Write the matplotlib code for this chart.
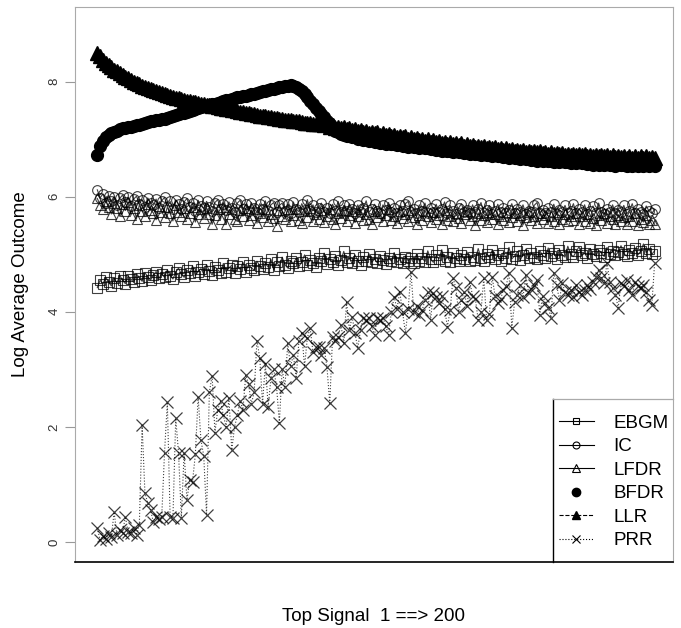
import numpy as np
import matplotlib
matplotlib.use("Agg")
import matplotlib.pyplot as plt
from matplotlib.lines import Line2D

plt.rcParams['font.family'] = ['Liberation Sans', 'DejaVu Sans']

# signal rank 1..200
rank = np.arange(1, 201)

ebgm = [
    4.42, 4.55, 4.48, 4.60, 4.52, 4.45, 4.58, 4.50, 4.63, 4.55,
    4.49, 4.62, 4.57, 4.51, 4.66, 4.59, 4.53, 4.68, 4.61, 4.55,
    4.64, 4.70, 4.58, 4.66, 4.60, 4.73, 4.63, 4.57, 4.69, 4.76,
    4.65, 4.60, 4.72, 4.67, 4.80, 4.63, 4.70, 4.75, 4.66, 4.82,
    4.71, 4.64, 4.78, 4.73, 4.68, 4.84, 4.70, 4.76, 4.81, 4.67,
    4.79, 4.74, 4.86, 4.70, 4.82, 4.77, 4.72, 4.88, 4.80, 4.75,
    4.84, 4.78, 4.91, 4.73, 4.86, 4.80, 4.95, 4.82, 4.76, 4.89,
    4.84, 4.93, 4.79, 4.87, 4.99, 4.82, 4.90, 4.85, 4.78, 4.94,
    4.88, 5.02, 4.83, 4.92, 4.86, 4.97, 4.81, 4.90, 5.05, 4.87,
    4.93, 4.84, 4.99, 4.89, 4.82, 4.95, 4.88, 5.01, 4.86, 4.92,
    4.85, 4.97, 4.90, 4.83, 4.94, 4.88, 5.03, 4.86, 4.91, 4.84,
    4.96, 4.89, 4.93, 4.85, 5.00, 4.88, 4.94, 4.87, 5.06, 4.91,
    4.86, 4.98, 4.92, 5.08, 4.89, 4.95, 4.87, 5.02, 4.93, 4.88,
    4.99, 4.91, 5.04, 4.89, 4.96, 4.90, 5.10, 4.94, 4.88, 5.01,
    4.95, 5.07, 4.91, 4.98, 4.89, 5.03, 4.94, 5.12, 4.92, 4.97,
    5.05, 4.90, 4.99, 5.09, 4.93, 5.02, 4.96, 4.91, 5.06, 4.98,
    4.94, 5.11, 4.97, 5.03, 4.92, 5.08, 4.99, 4.95, 5.14, 5.00,
    4.96, 5.05, 5.13, 4.98, 5.02, 4.94, 5.10, 5.01, 4.97, 5.07,
    5.03, 4.96, 5.12, 5.00, 5.06, 4.98, 5.04, 5.15, 5.01, 4.97,
    5.08, 5.02, 5.11, 4.99, 5.05, 5.18, 5.03, 5.09, 5.00, 5.06,
]

ic = [
    6.12, 5.98, 6.05, 5.90, 6.02, 5.93, 6.00, 5.86, 5.97, 6.03,
    5.91, 5.99, 5.84, 5.96, 6.01, 5.88, 5.95, 5.82, 5.98, 5.90,
    5.85, 5.96, 5.80, 5.93, 5.99, 5.83, 5.92, 5.79, 5.95, 5.87,
    5.78, 5.91, 5.97, 5.82, 5.89, 5.76, 5.94, 5.84, 5.80, 5.92,
    5.83, 5.75, 5.90, 5.95, 5.79, 5.88, 5.77, 5.91, 5.81, 5.74,
    5.89, 5.94, 5.78, 5.87, 5.75, 5.90, 5.80, 5.73, 5.88, 5.79,
    5.93, 5.75, 5.86, 5.90, 5.74, 5.85, 5.89, 5.76, 5.87, 5.72,
    5.91, 5.79, 5.74, 5.88, 5.77, 5.95, 5.75, 5.86, 5.73, 5.81,
    5.89, 5.74, 5.80, 5.72, 5.87, 5.76, 5.92, 5.73, 5.85, 5.75,
    5.88, 5.78, 5.71, 5.86, 5.74, 5.80, 5.93, 5.73, 5.79, 5.87,
    5.75, 5.72, 5.86, 5.77, 5.90, 5.73, 5.80, 5.71, 5.85, 5.76,
    5.88, 5.92, 5.74, 5.79, 5.72, 5.86, 5.76, 5.89, 5.71, 5.80,
    5.74, 5.87, 5.73, 5.79, 5.91, 5.72, 5.85, 5.75, 5.70, 5.80,
    5.88, 5.74, 5.77, 5.71, 5.86, 5.73, 5.79, 5.90, 5.72, 5.77,
    5.85, 5.70, 5.75, 5.87, 5.73, 5.80, 5.72, 5.77, 5.88, 5.71,
    5.79, 5.74, 5.86, 5.70, 5.76, 5.73, 5.85, 5.90, 5.72, 5.77,
    5.71, 5.80, 5.74, 5.87, 5.70, 5.77, 5.73, 5.85, 5.72, 5.76,
    5.88, 5.71, 5.79, 5.73, 5.86, 5.70, 5.76, 5.84, 5.72, 5.89,
    5.74, 5.70, 5.79, 5.73, 5.86, 5.71, 5.77, 5.74, 5.85, 5.70,
    5.76, 5.88, 5.72, 5.79, 5.73, 5.70, 5.84, 5.75, 5.71, 5.78,
]

lfdr = [
    5.97, 5.86, 5.78, 5.93, 5.82, 5.70, 5.90, 5.80, 5.66, 5.87,
    5.76, 5.91, 5.68, 5.81, 5.62, 5.86, 5.75, 5.66, 5.88, 5.77,
    5.72, 5.60, 5.84, 5.74, 5.65, 5.82, 5.71, 5.58, 5.85, 5.73,
    5.66, 5.80, 5.62, 5.72, 5.83, 5.56, 5.70, 5.79, 5.63, 5.81,
    5.70, 5.52, 5.68, 5.78, 5.61, 5.82, 5.53, 5.70, 5.79, 5.62,
    5.57, 5.77, 5.66, 5.80, 5.60, 5.69, 5.78, 5.54, 5.72, 5.64,
    5.79, 5.58, 5.70, 5.63, 5.50, 5.77, 5.66, 5.61, 5.79, 5.57,
    5.69, 5.78, 5.60, 5.54, 5.76, 5.65, 5.80, 5.58, 5.70, 5.62,
    5.77, 5.56, 5.67, 5.79, 5.61, 5.52, 5.72, 5.63, 5.77, 5.58,
    5.68, 5.76, 5.55, 5.66, 5.78, 5.60, 5.70, 5.62, 5.53, 5.76,
    5.64, 5.72, 5.57, 5.68, 5.79, 5.60, 5.67, 5.54, 5.76, 5.63,
    5.70, 5.58, 5.77, 5.64, 5.52, 5.69, 5.60, 5.76, 5.66, 5.56,
    5.73, 5.62, 5.69, 5.53, 5.77, 5.60, 5.67, 5.57, 5.72, 5.63,
    5.55, 5.70, 5.76, 5.59, 5.66, 5.51, 5.72, 5.60, 5.68, 5.56,
    5.74, 5.62, 5.70, 5.53, 5.66, 5.59, 5.73, 5.56, 5.64, 5.71,
    5.58, 5.68, 5.51, 5.65, 5.74, 5.59, 5.67, 5.55, 5.71, 5.61,
    5.69, 5.54, 5.66, 5.58, 5.73, 5.52, 5.62, 5.70, 5.57, 5.67,
    5.60, 5.72, 5.53, 5.66, 5.58, 5.70, 5.55, 5.63, 5.51, 5.68,
    5.59, 5.72, 5.54, 5.66, 5.61, 5.52, 5.69, 5.57, 5.64, 5.53,
    5.67, 5.58, 5.71, 5.51, 5.62, 5.56, 5.68, 5.53, 5.60, 5.52,
]

bfdr = [
    6.72, 6.88, 6.97, 7.03, 7.07, 7.10, 7.13, 7.15, 7.17, 7.19,
    7.20, 7.21, 7.22, 7.23, 7.24, 7.25, 7.27, 7.28, 7.30, 7.31,
    7.32, 7.33, 7.34, 7.35, 7.36, 7.37, 7.39, 7.40, 7.42, 7.43,
    7.45, 7.46, 7.48, 7.49, 7.51, 7.52, 7.54, 7.56, 7.57, 7.58,
    7.60, 7.61, 7.62, 7.63, 7.65, 7.66, 7.68, 7.69, 7.70, 7.72,
    7.73, 7.74, 7.75, 7.76, 7.77, 7.78, 7.79, 7.80, 7.82, 7.83,
    7.84, 7.86, 7.87, 7.88, 7.89, 7.90, 7.91, 7.92, 7.93, 7.94,
    7.93, 7.91, 7.88, 7.84, 7.79, 7.73, 7.67, 7.61, 7.55, 7.49,
    7.44, 7.38, 7.32, 7.26, 7.20, 7.15, 7.12, 7.09, 7.08, 7.06,
    7.05, 7.03, 7.04, 7.01, 7.02, 6.99, 7.00, 6.97, 6.98, 6.96,
    6.97, 6.94, 6.95, 6.92, 6.94, 6.91, 6.92, 6.90, 6.91, 6.88,
    6.90, 6.87, 6.88, 6.86, 6.88, 6.85, 6.86, 6.84, 6.85, 6.83,
    6.84, 6.81, 6.83, 6.80, 6.82, 6.79, 6.80, 6.78, 6.80, 6.77,
    6.78, 6.76, 6.78, 6.75, 6.76, 6.74, 6.75, 6.73, 6.74, 6.72,
    6.73, 6.71, 6.72, 6.70, 6.71, 6.69, 6.70, 6.68, 6.70, 6.67,
    6.68, 6.66, 6.68, 6.65, 6.67, 6.64, 6.66, 6.63, 6.65, 6.62,
    6.64, 6.62, 6.63, 6.61, 6.63, 6.60, 6.62, 6.60, 6.61, 6.59,
    6.61, 6.58, 6.60, 6.58, 6.59, 6.57, 6.59, 6.56, 6.58, 6.56,
    6.58, 6.55, 6.57, 6.55, 6.57, 6.54, 6.57, 6.55, 6.56, 6.54,
    6.56, 6.54, 6.56, 6.53, 6.55, 6.54, 6.56, 6.53, 6.55, 6.54,
]

llr = [
    8.50, 8.44, 8.38, 8.33, 8.29, 8.25, 8.21, 8.18, 8.15, 8.12,
    8.09, 8.06, 8.03, 8.00, 7.98, 7.96, 7.93, 7.91, 7.89, 7.87,
    7.85, 7.83, 7.82, 7.80, 7.78, 7.77, 7.75, 7.74, 7.72, 7.71,
    7.70, 7.68, 7.67, 7.66, 7.65, 7.64, 7.63, 7.62, 7.61, 7.60,
    7.59, 7.58, 7.57, 7.56, 7.55, 7.54, 7.53, 7.52, 7.51, 7.50,
    7.49, 7.48, 7.47, 7.46, 7.45, 7.44, 7.43, 7.42, 7.41, 7.40,
    7.40, 7.39, 7.38, 7.37, 7.37, 7.36, 7.35, 7.34, 7.34, 7.33,
    7.32, 7.31, 7.31, 7.30, 7.29, 7.29, 7.28, 7.27, 7.27, 7.26,
    7.27, 7.24, 7.26, 7.22, 7.24, 7.20, 7.22, 7.19, 7.21, 7.17,
    7.19, 7.16, 7.18, 7.14, 7.16, 7.13, 7.15, 7.11, 7.13, 7.10,
    7.12, 7.08, 7.10, 7.07, 7.09, 7.05, 7.08, 7.04, 7.06, 7.03,
    7.05, 7.01, 7.04, 7.00, 7.02, 6.99, 7.01, 6.97, 7.00, 6.96,
    6.98, 6.95, 6.97, 6.94, 6.96, 6.92, 6.95, 6.91, 6.94, 6.90,
    6.93, 6.89, 6.91, 6.88, 6.90, 6.87, 6.89, 6.86, 6.88, 6.85,
    6.87, 6.84, 6.86, 6.83, 6.85, 6.82, 6.84, 6.81, 6.83, 6.80,
    6.82, 6.79, 6.81, 6.78, 6.80, 6.78, 6.79, 6.77, 6.79, 6.76,
    6.78, 6.75, 6.77, 6.75, 6.76, 6.74, 6.76, 6.73, 6.75, 6.73,
    6.75, 6.72, 6.74, 6.72, 6.74, 6.71, 6.73, 6.71, 6.73, 6.70,
    6.72, 6.70, 6.72, 6.69, 6.72, 6.69, 6.71, 6.69, 6.71, 6.68,
    6.71, 6.68, 6.70, 6.68, 6.70, 6.67, 6.70, 6.67, 6.69, 6.67,
]

prr = [
    0.24, 0.03, 0.10, 0.05, 0.15, 0.08, 0.52, 0.12, 0.20, 0.15,
    0.44, 0.18, 0.15, 0.25, 0.12, 0.30, 2.03, 0.85, 0.68, 0.55,
    0.35, 0.44, 0.40, 0.44, 1.55, 2.43, 0.44, 0.42, 2.15, 1.55,
    0.42, 1.55, 0.73, 1.08, 1.05, 1.52, 2.52, 1.77, 1.50, 0.47,
    2.60, 2.89, 1.90, 2.30, 2.45, 2.20, 2.00, 2.50, 1.60, 2.00,
    2.20, 2.45, 2.30, 2.90, 2.75, 2.40, 2.60, 3.50, 3.20, 2.40,
    3.10, 2.35, 2.85, 3.00, 2.70, 2.07, 3.00, 2.70, 3.45, 3.05,
    3.25, 2.85, 3.50, 3.63, 3.05, 3.55, 3.72, 3.30, 3.38, 3.39,
    3.25, 3.37, 3.04, 2.41, 3.57, 3.50, 3.57, 3.77, 3.46, 4.17,
    3.69, 3.91, 3.63, 3.37, 3.69, 3.90, 3.85, 3.90, 3.75, 3.60,
    3.90, 3.85, 3.90, 3.75, 3.60, 4.00, 4.26, 4.05, 4.35, 4.00,
    3.63, 4.05, 4.70, 4.00, 4.10, 3.95, 4.03, 4.20, 4.35, 3.86,
    4.33, 4.25, 4.15, 4.28, 4.05, 3.74, 4.03, 4.59, 4.42, 4.00,
    4.20, 4.35, 4.10, 4.52, 4.28, 4.22, 3.86, 4.00, 4.59, 3.86,
    3.97, 4.61, 4.28, 4.15, 4.22, 4.38, 4.45, 4.68, 3.72, 4.17,
    4.30, 4.47, 4.25, 4.64, 4.33, 4.40, 4.47, 4.55, 3.95, 4.28,
    4.15, 4.07, 3.90, 4.68, 4.47, 4.20, 4.50, 4.35, 4.30, 4.38,
    4.25, 4.47, 4.35, 4.30, 4.38, 4.47, 4.40, 4.52, 4.60, 4.73,
    4.59, 4.50, 4.85, 4.52, 4.41, 4.30, 4.07, 4.50, 4.45, 4.55,
    4.38, 4.30, 4.52, 4.45, 4.41, 4.47, 4.35, 4.20, 4.12, 4.85,
]

methods = ["EBGM", "IC", "LFDR", "BFDR", "LLR", "PRR"]

fig = plt.figure(figsize=(6.81, 6.28), dpi=100)
ax = fig.add_axes([0.110, 0.105, 0.878, 0.884])

ink = (0, 0, 0, 0.75)
ax.plot(rank, ebgm, color=ink, lw=0.8, marker='s', ms=7.5, mfc='none', mew=0.8)
ax.plot(rank, ic, color=ink, lw=0.8, marker='o', ms=7.0, mfc='none', mew=0.8)
ax.plot(rank, lfdr, color=ink, lw=0.8, marker='^', ms=7.5, mfc='none', mew=0.8)
ax.plot(rank, prr, color=ink, lw=0.8, ls=':', marker='x', ms=8, mew=0.9)
ax.plot(rank, llr, color='black', lw=0.8, ls='--', marker='^', ms=10, mec='black', mfc='black')
ax.plot(rank, bfdr, color='black', ls='none', marker='o', ms=8.5, mec='black', mfc='black')

ax.set_xlim(-7.0, 206.5)
ax.set_ylim(-0.35, 9.30)
ax.set_xticks([])
ax.set_yticks([0, 2, 4, 6, 8])
ax.set_yticklabels(['0', '2', '4', '6', '8'], rotation=90, va='center')
ax.tick_params(axis='y', length=7, width=0.8, color='#999999', labelsize=9.5,
               labelcolor='#333333', pad=3.5)

for side in ['left', 'top', 'right']:
    ax.spines[side].set_color('#aaaaaa')
    ax.spines[side].set_linewidth(0.8)
ax.spines['bottom'].set_color('black')
ax.spines['bottom'].set_linewidth(1.2)

ax.set_ylabel("Log Average Outcome", fontsize=13.5, labelpad=14)
ax.set_xlabel("Top Signal  1 ==> 200", fontsize=13.5, labelpad=33)

# legend box: black left edge, grey top edge, sitting on the axes corner
bx, by = 0.799, 0.294
ax.plot([bx, bx], [0, by], transform=ax.transAxes, color='black', lw=1.0, clip_on=False)
ax.plot([bx, 1.0], [by, by], transform=ax.transAxes, color='#aaaaaa', lw=0.9, clip_on=False)

handles = [
    Line2D([], [], color='black', lw=0.8, marker='s', ms=5, mfc='none', mew=0.8),
    Line2D([], [], color='black', lw=0.8, marker='o', ms=5, mfc='none', mew=0.8),
    Line2D([], [], color='black', lw=0.8, marker='^', ms=6, mfc='none', mew=0.8),
    Line2D([], [], color='black', ls='none', marker='o', ms=6, mfc='black'),
    Line2D([], [], color='black', lw=0.8, ls='--', marker='^', ms=6, mfc='black'),
    Line2D([], [], color='black', lw=0.8, ls=':', marker='x', ms=6, mew=0.8),
]
leg = ax.legend(handles, methods, loc='lower right', bbox_to_anchor=(1.0, 0.0144),
                borderaxespad=0, fontsize=13.5, handlelength=1.9, handletextpad=1.0,
                labelspacing=0.34, borderpad=0.25, frameon=False)

fig.savefig("out.png", dpi=100)
